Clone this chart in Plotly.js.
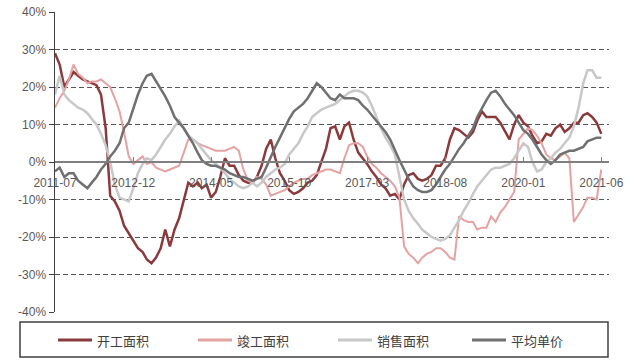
<!DOCTYPE html>
<html>
<head>
<meta charset="utf-8">
<script src="https://cdn.plot.ly/plotly-3.0.1.min.js"></script>
<style>
  html, body { margin: 0; padding: 0; background: #ffffff; }
  #chart { width: 636px; height: 361px; }
</style>
</head>
<body>
<div id="chart"></div>
<script>
// Monthly year-on-year growth (%), 2011-07 … 2021-06
const startYear = 2011;
const startMonth = 7;
const monthCount = 120;

const tickDates = ['2011-07-01', '2012-12-01', '2014-05-01', '2015-10-01',
                   '2017-03-01', '2018-08-01', '2020-01-01', '2021-06-01'];
const tickLabels = ['2011-07', '2012-12', '2014-05', '2015-10',
                    '2017-03', '2018-08', '2020-01', '2021-06'];

const yTickValues = [-40, -30, -20, -10, 0, 10, 20, 30, 40];
const yTickLabels = ['-40%', '-30%', '-20%', '-10%', '0%', '10%', '20%', '30%', '40%'];

const seriesNames = ['开工面积', '竣工面积', '销售面积', '平均单价'];

// 开工面积
const kaigong = [
  29, 26, 20, 22, 24, 23, 22, 21.5, 21, 20.5,
  18, 9, -9, -10.5, -13, -17, -19, -21, -23, -24,
  -26, -27, -25.5, -23, -18, -22.5, -18, -15, -10, -5.5,
  -6.5, -5.5, -7, -6, -9.5, -8, -4, 1, -1, -1,
  -3.5, -5, -5.5, -5.5, -4, -1, 3.5, 6, 1, -3,
  -5, -7.5, -8.5, -8, -7, -5.5, -5, -3.5, 0, 3.5,
  9, 9.5, 6, 9.5, 10.5, 6, 2.5, 1, -0.5, -2.5,
  -4, -6, -7, -9, -8.5, -10, -6, -3.5, -3, -4.5,
  -5, -4.5, -3.5, -1, -1, 1, 6, 9, 8.5, 7.5,
  6.5, 8, 11, 13.5, 12, 12, 12, 10.5, 8, 6,
  10, 12.5, 10.5, 9.5, 7, 5, 5.5, 7.5, 7, 9,
  10, 8, 9, 10.5, 10.5, 12.5, 13, 12, 10.5, 7.5
];

// 竣工面积
const jungong = [
  14.5, 17, 19, 22, 26, 23.5, 22.5, 21, 21.5, 21.5,
  22, 21, 20, 17, 13.5, 8, 1.5, -0.5, 0.5, 1.5,
  -0.5, 0, -1.5, -2, -2.5, -2, -1.5, -1, 2.5, 6,
  6, 5, 4.5, 4, 3.5, 3, 3, 3, 3.5, 4,
  3, -2, -5, -5.5, -4, -4.5, -6, -9, -8.5, -8,
  -7.5, -6.5, -5.5, -5, -4.5, -4.5, -3.5, -3, -2.5, -2,
  -2, -2.5, -3, 1, 4.5, 5, 5, 4, 1.5, -0.5,
  -1.5, -3, -4, -5, -6.5, -9.5, -22.5, -24.5, -25.5, -27,
  -25.5, -24.5, -24, -23, -23, -24, -25.5, -26, -14.5, -15.5,
  -16, -16, -18, -17.5, -17.5, -14.5, -16, -13.5, -12, -10,
  -8, 6, 7.5, 9, 8.5, 7, 5, 2, 1, 0.5,
  1.5, 2.5, 1, -16, -14, -12, -9.5, -9.5, -10, -2
];

// 销售面积
const xiaoshou = [
  18, 23, 18, 16.5, 15.5, 14.5, 14, 13, 11.5, 10,
  7.5, 4.5, 0, -6, -9.5, -10, -10.5, -7, -3, -0.5,
  1, 0.5, 2, 4, 6, 7.5, 9.5, 11, 9, 7,
  6, 5, 3.5, 2, 0.5, -0.5, -1.5, -3, -4.5, -5.5,
  -6.5, -7, -6.5, -5.5, -6.5, -5.5, -4, -3, -2, -1.5,
  -0.5, 2, 3.5, 5, 7.5, 9.5, 12, 13, 14, 14.5,
  15, 15.5, 16.5, 17.5, 18.5, 19, 19, 18.5, 17.5, 15,
  12, 9, 6.5, 4.5, 2, -4, -10, -13, -15, -16.5,
  -18, -19, -20, -20.5, -21, -20.5, -19.5, -17.5, -15.5, -13,
  -11, -8.5, -6.5, -5, -3.5, -2, -1.5, -1.5, -1, -0.5,
  1, 3, 5, 4, 0, -2.5, -2, 0, 1, 2.5,
  3.5, 5, 6.5, 9.5, 14.5, 21, 24.5, 24.5, 22.5, 22.5
];

// 平均单价
const pingjun = [
  -2.5, -1.5, -4, -3, -3, -5, -6, -7, -5.5, -4,
  -2, -0.5, 1.5, 3, 5, 9, 10.5, 14, 18, 21,
  23, 23.5, 21.5, 19.5, 17.5, 15, 12, 10.5, 9, 7,
  5, 2.5, 0.5, -0.5, -1, -1, -1.5, -2, -3, -3.5,
  -4, -4, -4.5, -5, -4.5, -4, -1.5, 1.5, 4, 6.5,
  9, 11.5, 13.5, 14.5, 15.5, 17, 19, 21, 20, 18.5,
  17, 16.5, 18, 17, 17, 17, 16.5, 15, 14, 12.5,
  11, 9.5, 8, 6, 3, 0.5, -2, -4.5, -6.5, -7.5,
  -8, -8, -7.5, -6, -4, -2, -0.5, 1.5, 3.5, 5,
  7, 9, 12, 14.5, 16.5, 18.5, 19, 17.5, 15.5, 14,
  12.5, 10.5, 8.5, 7.5, 6, 4, 2, 0.5, -0.5, 0.5,
  2, 2.5, 3, 3, 3.5, 4, 5.5, 6, 6.5, 6.5
];

const seriesValues = [kaigong, jungong, xiaoshou, pingjun];
const seriesColors = ['#8b3a3c', '#e4a2a2', '#c8c8c8', '#707070'];
const seriesWidths = [2.5, 2, 2.5, 2.5];

// month axis
const months = [];
for (let k = 0; k < monthCount; k++) {
  const m = startMonth - 1 + k;
  const y = startYear + Math.floor(m / 12);
  const mm = (m % 12) + 1;
  months.push(y + '-' + String(mm).padStart(2, '0') + '-01');
}

const traces = seriesNames.map((name, idx) => ({
  type: 'scatter',
  mode: 'lines',
  name: name,
  x: months,
  y: seriesValues[idx],
  line: { color: seriesColors[idx], width: seriesWidths[idx] },
  hoverinfo: 'x+y+name'
}));

// plot area geometry (pixels) used to place the boxed key below the axes
const W = 636, H = 361;
const M = { l: 55, r: 27, t: 12, b: 49 };
const plotW = W - M.l - M.r;
const plotH = H - M.t - M.b;
const px = v => (v - M.l) / plotW;
const py = v => (H - M.b - v) / plotH;

// boxed key: one short line sample followed by the series name
const keyStarts = [58, 198, 338, 472];
const keySample = 34;
const keyY = 340;

const shapes = [{
  type: 'rect',
  xref: 'paper', yref: 'paper',
  x0: px(20), x1: px(608),
  y0: py(357), y1: py(322),
  line: { color: '#404040', width: 1.5 },
  fillcolor: 'rgba(0,0,0,0)'
}];
const annotations = [];
seriesNames.forEach((name, idx) => {
  shapes.push({
    type: 'line',
    xref: 'paper', yref: 'paper',
    x0: px(keyStarts[idx]), x1: px(keyStarts[idx] + keySample),
    y0: py(keyY), y1: py(keyY),
    line: { color: seriesColors[idx], width: 3 }
  });
  annotations.push({
    xref: 'paper', yref: 'paper',
    x: px(keyStarts[idx] + keySample + 3), y: py(keyY),
    xanchor: 'left', yanchor: 'middle',
    text: name,
    showarrow: false,
    font: { family: 'Noto Sans CJK SC, sans-serif', size: 13, color: '#404040' }
  });
});

const tickFont = { family: 'Liberation Sans, Arial, sans-serif', size: 12, color: '#595959' };

const layout = {
  width: W,
  height: H,
  margin: { l: M.l, r: M.r, t: M.t, b: M.b, pad: 0 },
  paper_bgcolor: '#ffffff',
  plot_bgcolor: '#ffffff',
  showlegend: false,
  xaxis: {
    type: 'date',
    range: ['2011-07-01', '2021-07-22'],
    tickmode: 'array',
    tickvals: tickDates,
    ticktext: tickLabels,
    anchor: 'free',
    position: 0.5,
    showline: true,
    linecolor: '#7f7f7f',
    linewidth: 2,
    ticks: 'inside',
    ticklen: 4,
    tickwidth: 1,
    tickcolor: '#7f7f7f',
    showgrid: false,
    zeroline: false,
    tickfont: tickFont,
    ticklabelstandoff: 10,
    automargin: false,
    fixedrange: true
  },
  yaxis: {
    range: [-40, 40],
    tickmode: 'array',
    tickvals: yTickValues,
    ticktext: yTickLabels,
    showgrid: true,
    gridcolor: '#555555',
    gridwidth: 1,
    griddash: '5px,3px',
    zeroline: false,
    showline: true,
    linecolor: '#404040',
    linewidth: 1.5,
    ticks: 'outside',
    ticklen: 5,
    tickcolor: '#404040',
    tickfont: tickFont,
    automargin: false,
    fixedrange: true
  },
  shapes: shapes,
  annotations: annotations
};

Plotly.newPlot('chart', traces, layout, { staticPlot: true, displayModeBar: false });
</script>
</body>
</html>
